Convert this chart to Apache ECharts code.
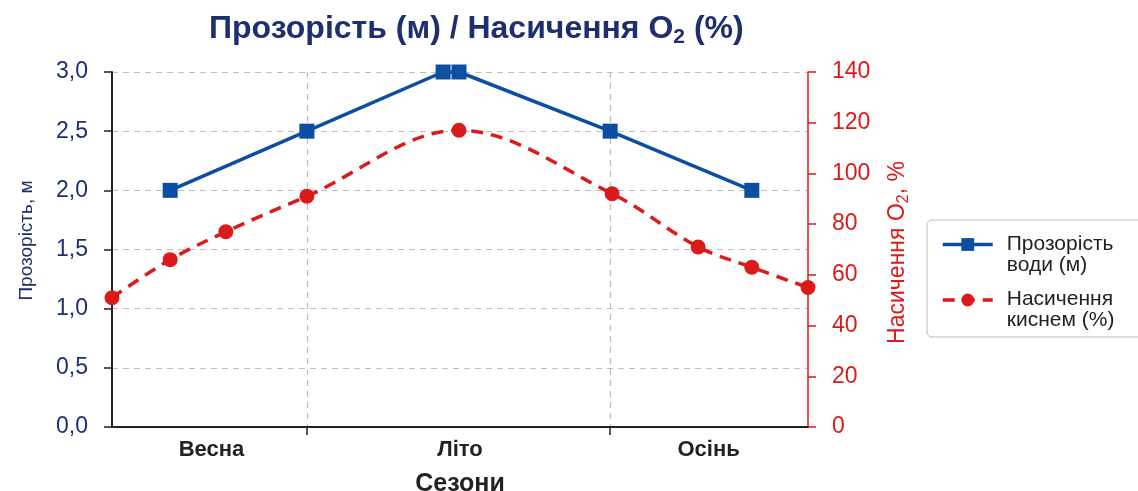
<!DOCTYPE html>
<html><head><meta charset="utf-8">
<script src="https://cdn.jsdelivr.net/npm/echarts@6/dist/echarts.min.js"></script>
<style>html,body{margin:0;padding:0;background:#fff}#c{width:1138px;height:491px}</style>
</head><body><div id="c"></div>
<script>
// Categories / positions along the season axis (0..14 scale)
const seasonNames = ['Весна', 'Літо', 'Осінь'];
const seasonLabelX = [2, 7, 12];
const seasonBoundX = [3.92, 10.02];
// Water clarity, m
const clarityX = [1.17, 3.92, 6.66, 6.98, 10.02, 12.87];
const clarityY = [2.0, 2.5, 3.0, 3.0, 2.5, 2.0];
// Oxygen saturation, %
const oxygenX = [0, 1.17, 2.29, 3.92, 6.98, 10.06, 11.79, 12.87, 14];
const oxygenY = [51, 66, 77, 91, 117, 92, 71, 63, 55];
// Legend text (two lines each)
const legendLines = {
  'Прозорість води (м)': ['Прозорість', 'води (м)'],
  'Насичення киснем (%)': ['Насичення', 'киснем (%)']
};

const FONT = 'Liberation Sans, Arial, sans-serif';
const NAVY = '#1d2f6f';
const BLUE = '#0b4ea2';
const RED = '#dc1a1a';

const chart = echarts.init(document.getElementById('c'));
chart.setOption({
  backgroundColor: '#fff',
  animation: false,
  title: {
    text: '{t|Прозорість (м) / Насичення O}{s|2}{t| (%)}',
    left: 204, top: 5,
    textStyle: {
      rich: {
        t: { fontFamily: FONT, fontSize: 32, fontWeight: 'bold', color: NAVY, lineHeight: 38 },
        s: { fontFamily: FONT, fontSize: 21, fontWeight: 'bold', color: NAVY, lineHeight: 21, verticalAlign: 'bottom' }
      }
    }
  },
  grid: { left: 112, right: 330, top: 72, bottom: 64, outerBoundsMode: 'none', containLabel: false },
  legend: {
    orient: 'vertical', left: 927, top: 220,
    padding: [3, 60, 6, 14],
    itemWidth: 50, itemHeight: 16, itemGap: 3,
    borderColor: '#bdbdbd', borderWidth: 1, borderRadius: 5,
    lineStyle: { width: 3.5 },
    formatter: function (n) {
      const l = legendLines[n];
      return '{g| }\n{t|' + l[0] + '}\n{t|' + l[1] + '}';
    },
    textStyle: {
      padding: [0, 0, 0, 9],
      rich: {
        g: { fontSize: 1, lineHeight: 20 },
        t: { fontFamily: FONT, fontSize: 21, color: '#222', lineHeight: 21 }
      }
    },
    data: ['Прозорість води (м)', 'Насичення киснем (%)']
  },
  xAxis: {
    type: 'value', min: 0, max: 14,
    name: 'Сезони', nameLocation: 'middle', nameGap: 45,
    nameTextStyle: { fontFamily: FONT, fontSize: 25, fontWeight: 'bold', color: '#222' },
    axisLine: { show: true, onZero: false, lineStyle: { color: '#222', width: 2 } },
    axisTick: { show: true, customValues: seasonBoundX, length: 8, lineStyle: { color: '#222', width: 1.5 } },
    axisLabel: {
      customValues: seasonLabelX, margin: 12,
      fontFamily: FONT, fontSize: 22, fontWeight: 'bold', color: '#222',
      formatter: function (v) { const i = seasonLabelX.indexOf(v); return i >= 0 ? seasonNames[i] : ''; }
    },
    splitLine: { show: true, lineStyle: { color: '#bdbdbd', type: [6, 5], width: 1.2 } }
  },
  yAxis: [
    {
      type: 'value', min: 0, max: 3, interval: 0.5, position: 'left',
      name: 'Прозорість, м', nameLocation: 'middle', nameGap: 76,
      nameTextStyle: { fontFamily: FONT, fontSize: 19, color: NAVY, padding: [0, 0, 0, 18] },
      axisLine: { show: true, lineStyle: { color: '#222', width: 2 } },
      axisTick: { show: true, length: 8, lineStyle: { color: '#222', width: 1.5 } },
      axisLabel: {
        margin: 24, fontFamily: FONT, fontSize: 23, color: NAVY,
        formatter: function (v) { return v.toFixed(1).replace('.', ','); }
      },
      splitLine: { show: true, lineStyle: { color: '#bdbdbd', type: [6, 5], width: 1.2 } }
    },
    {
      type: 'value', min: 0, max: 140, interval: 20, position: 'right',
      name: '{a|Насичення O}{b|2}{a|, %}', nameLocation: 'middle', nameGap: 76, nameRotate: 90,
      nameTextStyle: {
        padding: [0, 6, 0, 0],
        rich: {
          a: { fontFamily: FONT, fontSize: 23, color: RED, lineHeight: 28 },
          b: { fontFamily: FONT, fontSize: 16, color: RED, lineHeight: 16, verticalAlign: 'bottom' }
        }
      },
      axisLine: { show: true, lineStyle: { color: RED, width: 1.5 } },
      axisTick: { show: true, length: 8, lineStyle: { color: RED, width: 1.5 } },
      axisLabel: { margin: 24, fontFamily: FONT, fontSize: 23, color: RED },
      splitLine: { show: false }
    }
  ],
  series: [
    {
      name: 'Прозорість води (м)', type: 'line', yAxisIndex: 0,
      data: clarityX.map((x, i) => [x, clarityY[i]]),
      symbol: 'rect', symbolSize: 15,
      lineStyle: { color: BLUE, width: 3.5 },
      itemStyle: { color: BLUE },
      z: 3
    },
    {
      name: 'Насичення киснем (%)', type: 'line', yAxisIndex: 1,
      data: oxygenX.map((x, i) => [x, oxygenY[i]]),
      smooth: 0.35,
      symbol: 'circle', symbolSize: 15,
      lineStyle: { color: RED, width: 3.5, type: [12, 8] },
      itemStyle: { color: RED },
      z: 2
    }
  ]
});
</script>
</body></html>
